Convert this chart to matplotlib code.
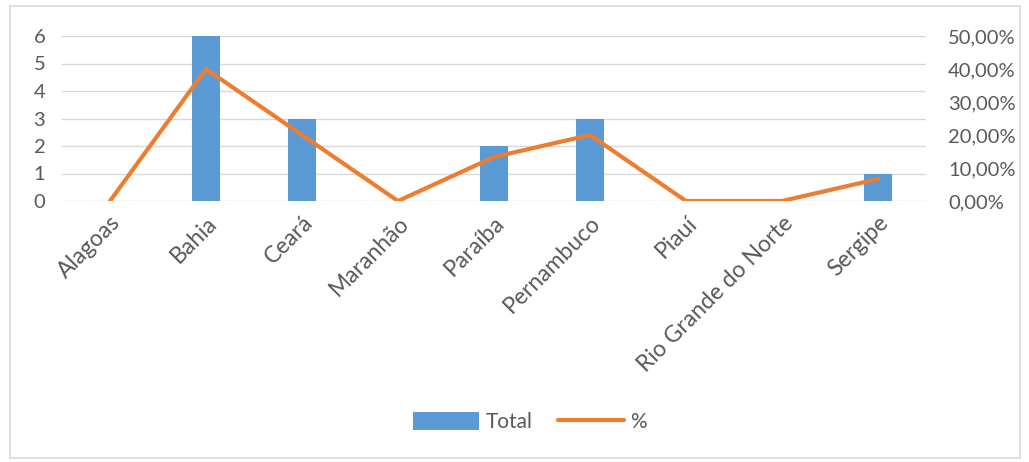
import matplotlib.pyplot as plt
from matplotlib.patches import Rectangle
from matplotlib.ticker import FuncFormatter

estados = ['Alagoas', 'Bahia', 'Ceará', 'Maranhão', 'Paraíba', 'Pernambuco',
           'Piauí', 'Rio Grande do Norte', 'Sergipe']
total = [0, 6, 3, 0, 2, 3, 0, 0, 1]
percent = [0.0, 0.40, 0.20, 0.0, 0.1333, 0.20, 0.0, 0.0, 0.0667]

plt.rcParams['font.family'] = ['Lato', 'DejaVu Sans']
txt = '#595959'
grid = '#d9d9d9'

fig = plt.figure(figsize=(10.29, 4.62), dpi=100)
fig.patches.append(Rectangle((10 / 1029, 4 / 462), 1010 / 1029, 452 / 462,
                             transform=fig.transFigure, fill=False,
                             edgecolor=grid, linewidth=1.2))

ax = fig.add_axes([62 / 1029, 1 - 201 / 462, 864 / 1029, 165 / 462])
x = list(range(len(estados)))
bars = ax.bar(x, total, width=0.3, color='#5b9bd5', label='Total', zorder=2)
ax.set_xlim(-0.5, len(estados) - 0.5)
ax.set_ylim(0, 6)
ax.set_yticks(range(7))
ax.yaxis.grid(True, color=grid, linewidth=1, zorder=0)
ax.set_axisbelow(True)
ax.set_xticks(x)
ax.set_xticklabels(estados, rotation=45, ha='right', rotation_mode='anchor',
                   color=txt, fontsize=16.5)
ax.tick_params(axis='y', colors=txt, labelsize=14.5, length=0, pad=12)
ax.tick_params(axis='x', length=0, pad=8)
for s in ax.spines.values():
    s.set_visible(False)

ax2 = ax.twinx()
line, = ax2.plot(x, percent, color='#ed7d31', linewidth=3, label='%',
                 solid_capstyle='round', zorder=3)
ax2.set_ylim(0, 0.5)
ax2.set_yticks([0, 0.1, 0.2, 0.3, 0.4, 0.5])
ax2.yaxis.set_major_formatter(FuncFormatter(lambda v, p: f'{v * 100:.2f}%'.replace('.', ',')))
ax2.tick_params(axis='y', colors=txt, labelsize=14.5, length=0, pad=16)
for s in ax2.spines.values():
    s.set_visible(False)

fig.legend([bars, line], ['Total', '%'], loc='center', bbox_to_anchor=(0.515, 1 - 422 / 462),
           ncol=2, frameon=False, fontsize=15, labelcolor=txt,
           handlelength=3.2, handleheight=1, columnspacing=1.2, handletextpad=0.3)

fig.savefig('out.png', dpi=100)
